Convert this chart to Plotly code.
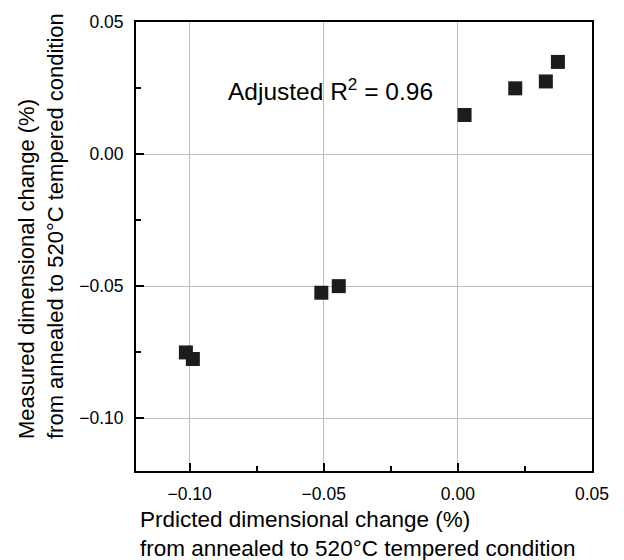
import plotly.graph_objects as go

predicted = [0.0025, 0.0214, 0.0328, 0.0373, -0.0509, -0.0444, -0.1014, -0.0988]
measured = [0.0148, 0.0249, 0.0275, 0.0349, -0.0525, -0.0500, -0.0751, -0.0776]
tick_vals = [-0.10, -0.05, 0.00, 0.05]
tick_text = ["\u22120.10", "\u22120.05", "0.00", "0.05"]
minor_vals = [-0.075, -0.025, 0.025]

font_family = "Liberation Sans, Arial, sans-serif"

fig = go.Figure()
fig.add_trace(go.Scatter(
    x=predicted, y=measured, mode="markers",
    marker=dict(symbol="square", size=14, color="#1c1c1c", line=dict(width=0)),
    showlegend=False,
))

axis_common = dict(
    showline=True, linecolor="black", linewidth=2, mirror=True,
    ticks="inside", ticklen=8, tickwidth=2, tickcolor="black",
    tickmode="array", tickvals=tick_vals, ticktext=tick_text,
    showgrid=True, gridcolor="#bdbdbd", gridwidth=1,
    zeroline=False,
    tickfont=dict(family=font_family, size=17.5, color="black"),
    minor=dict(ticks="inside", ticklen=5, tickwidth=2, tickcolor="black",
               tickmode="array", tickvals=minor_vals, showgrid=False),
)

fig.update_xaxes(range=[-0.12, 0.05001], ticklabelstandoff=6, **axis_common)
fig.update_yaxes(range=[-0.12, 0.05001], ticklabelstandoff=7, **axis_common)

fig.add_annotation(
    x=-0.0475, y=0.0243, xref="x", yref="y",
    text="Adjusted R<sup>2</sup> = 0.96", showarrow=False,
    font=dict(family=font_family, size=24.5, color="black"),
)

fig.add_annotation(
    x=0, y=0, xref="paper", yref="paper", xanchor="left", yanchor="top",
    xshift=2, yshift=-34, align="left", showarrow=False,
    text="Prdicted dimensional change (%)<br>from annealed to 520\u00b0C tempered condition",
    font=dict(family=font_family, size=22.5, color="black"),
)

fig.add_annotation(
    x=0, y=0, xref="paper", yref="paper", xanchor="right", yanchor="bottom",
    xshift=-66, yshift=30, align="left", showarrow=False, textangle=-90,
    text="Measured dimensional change (%)<br>from annealed to 520\u00b0C tempered condition",
    font=dict(family=font_family, size=22, color="black"),
)

fig.update_layout(
    width=624, height=560,
    margin=dict(l=136, r=32, t=16, b=89),
    paper_bgcolor="white", plot_bgcolor="white",
)

fig.write_html("out.html")
